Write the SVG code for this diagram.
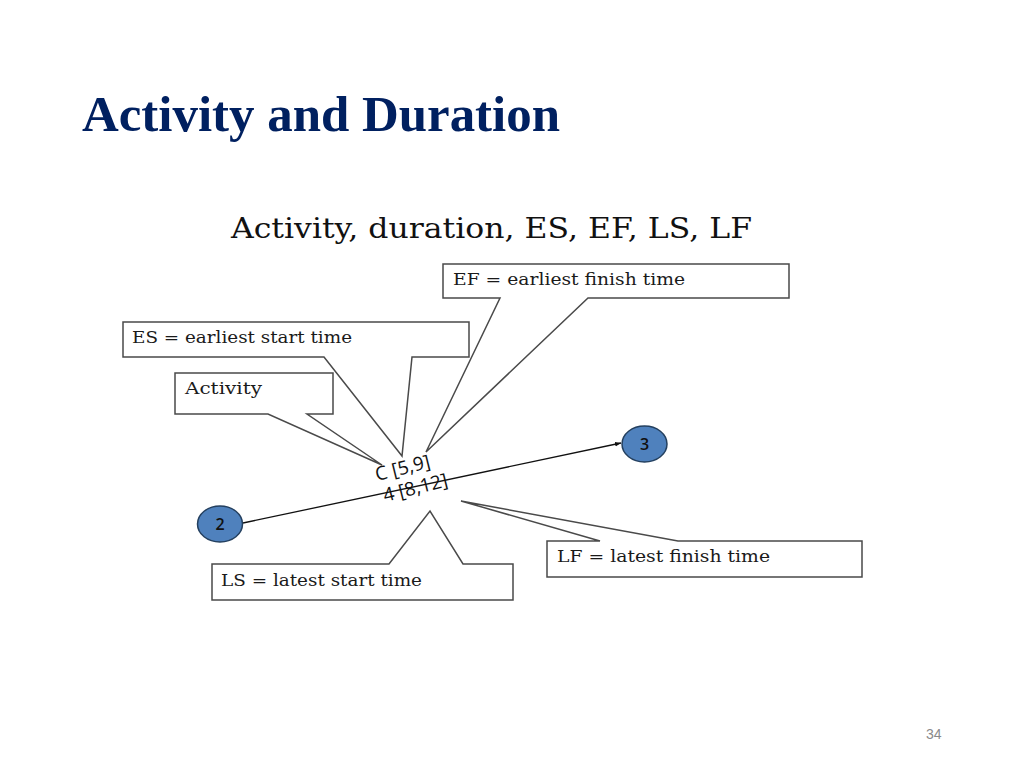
<svg xmlns="http://www.w3.org/2000/svg" width="1024" height="768" viewBox="0 0 1024 768">
<defs>
<marker id="arr" viewBox="0 0 10 10" refX="10" refY="5" markerWidth="6" markerHeight="6" orient="auto" markerUnits="userSpaceOnUse">
<path d="M0,1 L10,5 L0,9 Z" fill="#111"/>
</marker>
<style>
.title{font-family:"Liberation Serif","Times New Roman",serif;font-weight:bold;font-size:51px;fill:#002060}
.sub{font-family:"DejaVu Serif","Liberation Serif",serif;font-size:27px;fill:#111}
.call{fill:#fff;stroke:#4a4a4a;stroke-width:1.5;stroke-linejoin:miter}
.ct{font-family:"DejaVu Serif","Liberation Serif",serif;font-size:17px;fill:#1a1a1a}
.node{fill:#4f81bd;stroke:#24405f;stroke-width:1.5}
.nt{font-family:"Open Sans","Liberation Sans",sans-serif;font-size:16px;font-weight:600;fill:#111;text-anchor:middle}
.lbl{font-family:"Open Sans","Liberation Sans",sans-serif;font-size:19px;fill:#111}
.edge{stroke:#111;stroke-width:1.3;fill:none}
.pg{font-family:"Liberation Sans",Arial,sans-serif;font-size:14px;fill:#8a8a8a}
</style>
</defs>
<rect width="1024" height="768" fill="#fff"/>
<text class="title" x="82" y="131" textLength="478" lengthAdjust="spacingAndGlyphs">Activity and Duration</text>
<text class="sub" x="231" y="238" textLength="521" lengthAdjust="spacingAndGlyphs">Activity, duration, ES, EF, LS, LF</text>

<g id="connectors">
<line class="edge" x1="243" y1="523" x2="621" y2="443" marker-end="url(#arr)"/>
</g>

<g id="callout-ef">
<path class="call" d="M443,264 H789 V298 H588 L426,452 L500,298 H443 Z"/>
<text class="ct" x="453" y="285" textLength="232" lengthAdjust="spacingAndGlyphs">EF = earliest finish time</text>
</g>
<g id="callout-es">
<path class="call" d="M123,322 H469 V357 H412 L402,456 L324,357 H123 Z"/>
<text class="ct" x="132" y="343" textLength="220" lengthAdjust="spacingAndGlyphs">ES = earliest start time</text>
</g>
<g id="callout-activity">
<path class="call" d="M175,373 H333 V414 H307 L382,465 L268,414 H175 Z"/>
<text class="ct" x="185" y="394" textLength="77" lengthAdjust="spacingAndGlyphs">Activity</text>
</g>
<g id="callout-ls">
<path class="call" d="M212,600 V564 H389 L430,511 L463,564 H513 V600 Z"/>
<text class="ct" x="221" y="586" textLength="201" lengthAdjust="spacingAndGlyphs">LS = latest start time</text>
</g>
<g id="callout-lf">
<path class="call" d="M547,577 V541 H600 L461,501 L678,541 H862 V577 Z"/>
<text class="ct" x="557" y="562" textLength="213" lengthAdjust="spacingAndGlyphs">LF = latest finish time</text>
</g>

<g id="node-2">
<ellipse class="node" cx="220" cy="524" rx="22.5" ry="18"/>
<text class="nt" x="220" y="530">2</text>
</g>
<g id="node-3">
<ellipse class="node" cx="644.5" cy="444" rx="22.5" ry="18"/>
<text class="nt" x="644.5" y="450">3</text>
</g>

<g id="activity-label">
<text class="lbl" transform="translate(377,481) rotate(-14)">C [5,9]</text>
<text class="lbl" transform="translate(385,502) rotate(-14)">4 [8,12]</text>
</g>

<text class="pg" x="926" y="739">34</text>
</svg>
